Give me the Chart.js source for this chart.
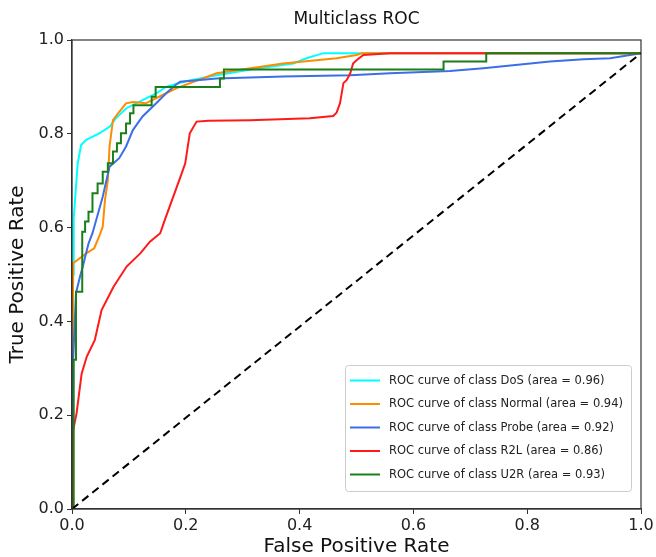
<!DOCTYPE html>
<html>
<head>
<meta charset="utf-8">
<script src="https://cdn.jsdelivr.net/npm/chart.js@4/dist/chart.umd.min.js"></script>
<style>
  html, body { margin: 0; padding: 0; background: #ffffff; }
  #wrap { width: 656px; height: 557px; }
</style>
</head>
<body>
<div id="wrap"><canvas id="c" width="656" height="557"></canvas></div>
<script>
// ---- data ----
const chartTitle = 'Multiclass ROC';
const classNames = ['DoS', 'Normal', 'Probe', 'R2L', 'U2R'];
const classAreas = ['0.96', '0.94', '0.92', '0.86', '0.93'];
const xTickValues = [0, 0.2, 0.4, 0.6, 0.8, 1.0];
const yTickValues = [0, 0.2, 0.4, 0.6, 0.8, 1.0];

const dosFpr = [0, 0.001, 0.002, 0.003, 0.010, 0.016, 0.025, 0.048, 0.066, 0.077, 0.095, 0.124, 0.148, 0.165, 0.200, 0.254, 0.320, 0.389, 0.412, 0.442, 1.0];
const dosTpr = [0, 0.30, 0.50, 0.62, 0.737, 0.776, 0.787, 0.801, 0.815, 0.833, 0.854, 0.872, 0.886, 0.900, 0.912, 0.925, 0.938, 0.950, 0.961, 0.972, 0.972];

const normalFpr = [0, 0.001, 0.002, 0.025, 0.039, 0.049, 0.054, 0.058, 0.063, 0.066, 0.072, 0.083, 0.095, 0.107, 0.130, 0.153, 0.183, 0.254, 0.371, 0.465, 0.500, 0.510, 1.0];
const normalTpr = [0, 0.30, 0.524, 0.545, 0.556, 0.585, 0.602, 0.659, 0.701, 0.773, 0.829, 0.847, 0.865, 0.868, 0.865, 0.879, 0.897, 0.929, 0.950, 0.961, 0.968, 0.972, 0.972];

const probeFpr = [0, 0.001, 0.002, 0.007, 0.014, 0.019, 0.029, 0.036, 0.054, 0.066, 0.083, 0.095, 0.107, 0.124, 0.148, 0.165, 0.183, 0.190, 0.254, 0.371, 0.489, 0.559, 0.664, 0.723, 0.840, 0.899, 0.946, 1.0];
const probeTpr = [0, 0.15, 0.318, 0.46, 0.495, 0.517, 0.566, 0.588, 0.666, 0.730, 0.748, 0.773, 0.808, 0.837, 0.865, 0.886, 0.905, 0.911, 0.918, 0.922, 0.925, 0.929, 0.934, 0.940, 0.954, 0.959, 0.961, 0.972];

const r2lFpr = [0, 0.001, 0.002, 0.008, 0.017, 0.026, 0.040, 0.052, 0.073, 0.096, 0.120, 0.137, 0.155, 0.163, 0.178, 0.193, 0.199, 0.207, 0.219, 0.240, 0.313, 0.418, 0.459, 0.465, 0.471, 0.477, 0.483, 0.489, 0.494, 0.500, 0.512, 0.559, 0.726, 1.0];
const r2lTpr = [0, 0.10, 0.168, 0.204, 0.289, 0.325, 0.360, 0.424, 0.474, 0.517, 0.545, 0.570, 0.588, 0.616, 0.666, 0.716, 0.737, 0.801, 0.826, 0.828, 0.829, 0.833, 0.838, 0.845, 0.865, 0.908, 0.915, 0.929, 0.950, 0.957, 0.968, 0.972, 0.972, 0.972];

const u2rFpr = [0, 0.003, 0.003, 0.007, 0.007, 0.018, 0.018, 0.023, 0.023, 0.029, 0.029, 0.036, 0.036, 0.045, 0.045, 0.054, 0.054, 0.063, 0.063, 0.072, 0.072, 0.079, 0.079, 0.086, 0.086, 0.095, 0.095, 0.102, 0.102, 0.108, 0.108, 0.140, 0.140, 0.147, 0.147, 0.260, 0.260, 0.267, 0.267, 0.653, 0.653, 0.728, 0.728, 1.0];
const u2rTpr = [0, 0, 0.318, 0.318, 0.463, 0.463, 0.591, 0.591, 0.613, 0.613, 0.634, 0.634, 0.673, 0.673, 0.694, 0.694, 0.719, 0.719, 0.737, 0.737, 0.762, 0.762, 0.780, 0.780, 0.801, 0.801, 0.822, 0.822, 0.844, 0.844, 0.861, 0.861, 0.879, 0.879, 0.900, 0.900, 0.918, 0.918, 0.937, 0.937, 0.954, 0.954, 0.972, 0.972];

const chanceFpr = [0, 1.0];
const chanceTpr = [0, 0.972];

// ---- build ----
const seriesX = [dosFpr, normalFpr, probeFpr, r2lFpr, u2rFpr];
const seriesY = [dosTpr, normalTpr, probeTpr, r2lTpr, u2rTpr];
const colors = ['#00ffff', '#ff8c00', '#3c6ee6', '#ff1a1a', '#1a7f1a'];
const FONT = "'DejaVu Sans', sans-serif";

function pts(xs, ys) { return xs.map((x, i) => ({ x: x, y: ys[i] })); }

const datasets = classNames.map((n, i) => ({
  label: 'ROC curve of class ' + n + ' (area = ' + classAreas[i] + ')',
  data: pts(seriesX[i], seriesY[i]),
  borderColor: colors[i],
  backgroundColor: colors[i],
  borderWidth: 2,
  pointRadius: 0,
  showLine: true,
  tension: 0,
  fill: false,
  order: 6 - i
}));
datasets.push({
  label: 'chance',
  data: pts(chanceFpr, chanceTpr),
  borderColor: '#000000',
  borderWidth: 2,
  borderDash: [8, 5],
  pointRadius: 0,
  showLine: true,
  fill: false,
  order: 0
});

const framePlugin = {
  id: 'frame',
  afterDatasetsDraw(chart) {
    const { ctx, chartArea: a } = chart;
    ctx.save();
    ctx.strokeStyle = '#333333';
    ctx.lineWidth = 1.2;
    ctx.strokeRect(a.left, a.top, a.right - a.left, a.bottom - a.top);
    ctx.restore();
  },
  afterDraw(chart) {
    const { ctx, chartArea: a } = chart;
    ctx.save();
    ctx.font = '17px ' + FONT;
    ctx.fillStyle = '#111111';
    ctx.textAlign = 'center';
    ctx.textBaseline = 'middle';
    ctx.fillText(chartTitle, (a.left + a.right) / 2, 20);
    ctx.restore();
  }
};

const legendPlugin = {
  id: 'boxLegend',
  afterDraw(chart) {
    const { ctx } = chart;
    const bx = 345, by = 365, bw = 286, bh = 126;
    ctx.save();
    ctx.fillStyle = 'rgba(255,255,255,0.85)';
    ctx.strokeStyle = '#cccccc';
    ctx.lineWidth = 1;
    ctx.beginPath();
    if (ctx.roundRect) ctx.roundRect(bx + 0.5, by + 0.5, bw, bh, 3); else ctx.rect(bx + 0.5, by + 0.5, bw, bh);
    ctx.fill();
    ctx.stroke();
    ctx.font = '11.5px ' + FONT;
    ctx.textBaseline = 'middle';
    ctx.fillStyle = '#222222';
    for (let i = 0; i < classNames.length; i++) {
      const y = by + 15.5 + i * 23.5;
      ctx.strokeStyle = colors[i];
      ctx.lineWidth = 2;
      ctx.beginPath();
      ctx.moveTo(350, y);
      ctx.lineTo(380, y);
      ctx.stroke();
      ctx.fillText(datasets[i].label, 389, y + 0.5);
    }
    ctx.restore();
  }
};

new Chart(document.getElementById('c'), {
  type: 'scatter',
  data: { datasets: datasets },
  options: {
    responsive: false,
    animation: false,
    devicePixelRatio: 1,
    layout: { padding: { top: 40, right: 15, bottom: 0, left: 0 } },
    plugins: {
      legend: { display: false },
      tooltip: { enabled: false },
      title: { display: false }
    },
    scales: {
      x: {
        type: 'linear',
        min: 0, max: 1,
        afterBuildTicks(s) { s.ticks = xTickValues.map(v => ({ value: v })); },
        afterFit(s) { s.height = 48; },
        ticks: {
          color: '#222222',
          font: { family: FONT, size: 16 },
          padding: 2,
          maxRotation: 0,
          callback: v => Number(v).toFixed(1)
        },
        grid: { display: true, drawOnChartArea: false, drawTicks: true, tickLength: 5, color: '#333333' },
        border: { display: true, color: '#333333', width: 1.2 },
        title: {
          display: true,
          text: 'False Positive Rate',
          color: '#111111',
          font: { family: FONT, size: 20, lineHeight: 1.0 },
          padding: { top: 0, bottom: 0 }
        }
      },
      y: {
        type: 'linear',
        min: 0, max: 1,
        afterBuildTicks(s) { s.ticks = yTickValues.map(v => ({ value: v })); },
        afterFit(s) { s.width = 72; },
        ticks: {
          color: '#222222',
          font: { family: FONT, size: 16 },
          padding: 3,
          callback: v => Number(v).toFixed(1)
        },
        grid: { display: true, drawOnChartArea: false, drawTicks: true, tickLength: 5, color: '#333333' },
        border: { display: true, color: '#333333', width: 1.2 },
        title: {
          display: true,
          text: 'True Positive Rate',
          color: '#111111',
          font: { family: FONT, size: 20, lineHeight: 1.0 },
          padding: { top: 8, bottom: 0 }
        }
      }
    }
  },
  plugins: [framePlugin, legendPlugin]
});
</script>
</body>
</html>
